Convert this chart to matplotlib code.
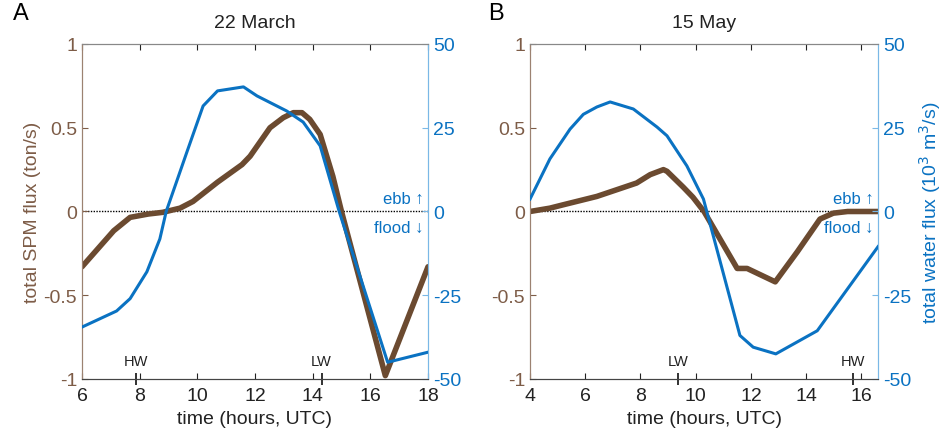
import numpy as np
import matplotlib.pyplot as plt

plt.rcParams['font.family'] = ['Liberation Sans', 'DejaVu Sans']
plt.rcParams['axes.unicode_minus'] = False

BROWN = '#6b4a30'
BROWN_TXT = '#7d5c47'
BLUE = '#0a72c2'
BLUE_SPINE = '#7ab8e6'

# 22 March: SPM flux (ton/s) and water flux (10^3 m^3/s)
mar_t_spm = [6.0, 7.1, 7.67, 8.3, 8.8, 9.4, 9.85, 10.7, 11.55, 11.83, 12.52,
             12.98, 13.33, 13.63, 13.9, 14.26, 14.7, 15.0, 16.52, 18.0]
mar_spm = [-0.33, -0.115, -0.035, -0.015, -0.005, 0.02, 0.06, 0.175, 0.28, 0.33, 0.50,
           0.56, 0.59, 0.59, 0.55, 0.46, 0.21, 0.0, -0.98, -0.33]
mar_t_q = [6.0, 7.2, 7.67, 8.25, 8.7, 8.92, 9.64, 10.2, 10.7, 11.6, 12.07,
           13.1, 13.67, 14.26, 14.92, 16.6, 18.0]
mar_q = [-34.5, -29.7, -26, -18, -8.2, 0, 17.8, 31.5, 36, 37.2, 34.5,
         30, 26.7, 19.6, 0, -45, -42]

# 15 May
may_t_spm = [4.0, 4.72, 5.2, 6.42, 7.86, 8.35, 8.83, 8.96, 9.55, 9.9, 10.3,
             11.5, 11.86, 12.88, 13.68, 14.5, 14.98, 15.5, 16.6]
may_spm = [0.0, 0.02, 0.04, 0.09, 0.17, 0.22, 0.25, 0.24, 0.145, 0.085, 0.0,
           -0.34, -0.34, -0.42, -0.24, -0.045, -0.01, 0.0, 0.0]
may_t_q = [4.0, 4.72, 5.45, 5.93, 6.42, 6.9, 7.74, 8.6, 8.96, 9.68, 10.28, 10.4,
           11.6, 12.08, 12.9, 14.4, 16.6]
may_q = [3.7, 15.7, 24.6, 29, 31.2, 32.7, 30.6, 25.2, 22.6, 13.6, 3.7, 0,
         -37, -40.5, -42.5, -35.6, -10.5]

# tide markers (time, label)
mar_tides = [(7.87, 'HW'), (14.31, 'LW')]
may_tides = [(9.36, 'LW'), (15.7, 'HW')]

fig = plt.figure(figsize=(9.49, 4.39), dpi=100)


def panel(rect, t_spm, spm, t_q, q, xlim, xticks, tides, title, letter, left_label, right_label):
    ax = fig.add_axes(rect)
    ax2 = ax.twinx()

    ax.axhline(0, color='black', lw=1.0, ls=(0, (1, 1)), zorder=1)
    ax.plot(t_spm, spm, color=BROWN, lw=4.0, solid_capstyle='round', zorder=2)
    ax2.plot(t_q, q, color=BLUE, lw=2.2, zorder=3)

    ax.set_xlim(*xlim)
    ax.set_ylim(-1, 1)
    ax2.set_ylim(-50, 50)
    ax.set_xticks(xticks)
    ax.set_yticks([-1, -0.5, 0, 0.5, 1])
    ax.set_yticklabels(['-1', '-0.5', '0', '0.5', '1'])
    ax2.set_yticks([-50, -25, 0, 25, 50])

    ax.tick_params(axis='x', direction='in', top=True, length=4, labelsize=14,
                   colors='#222222', pad=6)
    ax.tick_params(axis='y', direction='in', length=4, labelsize=14,
                   colors=BROWN_TXT, labelcolor=BROWN_TXT)
    ax2.tick_params(axis='y', direction='in', length=4, labelsize=14,
                    colors=BLUE_SPINE, labelcolor=BLUE)

    for a in (ax, ax2):
        a.spines['top'].set_color('#888888')
        a.spines['bottom'].set_color('#444444')
        a.spines['left'].set_color('#9c8271')
        a.spines['right'].set_color(BLUE_SPINE)

    ax.set_xlabel('time (hours, UTC)', fontsize=14, color='#222222', labelpad=4)
    if left_label:
        ax.set_ylabel('total SPM flux (ton/s)', fontsize=14, color=BROWN_TXT, labelpad=2)
    if right_label:
        ax2.set_ylabel('total water flux (10$^3$ m$^3$/s)', fontsize=14, color=BLUE, labelpad=4)

    ax.set_title(title, fontsize=14, color='#222222', pad=12)
    ax.text(-0.2 if left_label else -0.12, 1.06, letter, transform=ax.transAxes,
            fontsize=17, color='black', va='bottom', ha='left')

    ax.annotate('ebb \u2191', xy=(1, 0), xycoords=('axes fraction', 'data'),
                xytext=(-3, 4), textcoords='offset points', color=BLUE,
                fontsize=12, ha='right', va='bottom')
    ax.annotate('flood \u2193', xy=(1, 0), xycoords=('axes fraction', 'data'),
                xytext=(-3, -6), textcoords='offset points', color=BLUE,
                fontsize=12, ha='right', va='top')

    for t, name in tides:
        ax.plot([t], [-1], marker='|', ms=8, mew=1.3, color='#222222',
                clip_on=False, zorder=4)
        ax.text(t, -0.935, name, fontsize=10.5, color='#222222', ha='center', va='bottom')
    return ax, ax2


panel([0.0864, 0.1344, 0.3646, 0.7631], mar_t_spm, mar_spm, mar_t_q, mar_q,
      (6, 18), range(6, 19, 2), mar_tides, '22 March', 'A', True, False)
panel([0.5585, 0.1344, 0.3667, 0.7631], may_t_spm, may_spm, may_t_q, may_q,
      (4, 16.6), range(4, 17, 2), may_tides, '15 May', 'B', False, True)

fig.savefig('out.png', dpi=100)
